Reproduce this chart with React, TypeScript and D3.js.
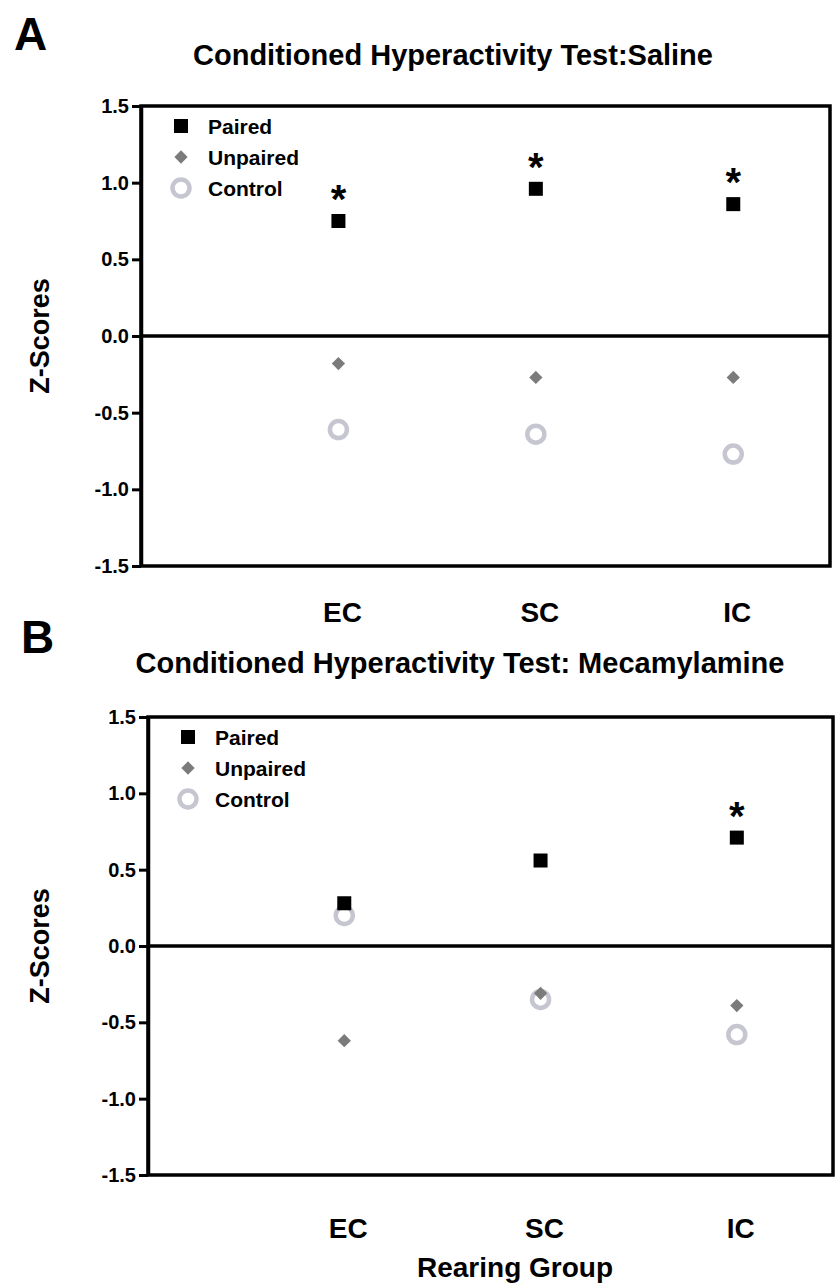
import React, { useEffect, useRef } from "react";
import * as d3 from "d3";

// rearing groups on the x axis
const groups = ["EC", "SC", "IC"];
const seriesNames = ["Paired", "Unpaired", "Control"];
const yTicks = [-1.5, -1.0, -0.5, 0.0, 0.5, 1.0, 1.5];

// panel A: saline
const salinePaired = [0.75, 0.96, 0.86];
const salineUnpaired = [-0.18, -0.27, -0.27];
const salineControl = [-0.61, -0.64, -0.77];
const salineSig = [true, true, true];

// panel B: mecamylamine
const mecaPaired = [0.28, 0.56, 0.71];
const mecaUnpaired = [-0.62, -0.31, -0.39];
const mecaControl = [0.2, -0.35, -0.58];
const mecaSig = [false, false, true];

const FONT = "'Liberation Sans', Arial, Helvetica, sans-serif";
const colors = { Paired: "#000000", Unpaired: "#7b7b7b", Control: "#c6c6d1" };

const panels = [
  {
    letter: "A", letterX: 14, letterY: 50,
    title: "Conditioned Hyperactivity Test:Saline", titleX: 453, titleY: 65,
    left: 141, right: 830, top: 106, bottom: 566, labelY: 622,
    paired: salinePaired, unpaired: salineUnpaired, control: salineControl, sig: salineSig,
  },
  {
    letter: "B", letterX: 21, letterY: 653,
    title: "Conditioned Hyperactivity Test: Mecamylamine", titleX: 460, titleY: 673,
    left: 148, right: 833, top: 717, bottom: 1175, labelY: 1238,
    paired: mecaPaired, unpaired: mecaUnpaired, control: mecaControl, sig: mecaSig,
  },
];

function drawMarker(g, name, cx, cy) {
  if (name === "Paired") {
    g.append("rect").attr("x", cx - 7).attr("y", cy - 7).attr("width", 14).attr("height", 14)
      .attr("fill", colors.Paired);
  } else if (name === "Unpaired") {
    g.append("path").attr("d", d3.symbol(d3.symbolSquare, 88)())
      .attr("transform", `translate(${cx},${cy}) rotate(45)`)
      .attr("fill", colors.Unpaired);
  } else {
    g.append("circle").attr("cx", cx).attr("cy", cy).attr("r", 8.5)
      .attr("fill", "white").attr("stroke", colors.Control).attr("stroke-width", 4.5);
  }
}

export default function App() {
  const ref = useRef(null);

  useEffect(() => {
    const svg = d3.select(ref.current);
    svg.selectAll("*").remove();
    svg.style("font-family", FONT);

    panels.forEach((p, pi) => {
      const x = d3.scaleLinear().domain([0, 3.49]).range([p.left, p.right]);
      const y = d3.scaleLinear().domain([-1.5, 1.5]).range([p.bottom, p.top]);
      const g = svg.append("g");

      g.append("text").attr("x", p.letterX).attr("y", p.letterY)
        .attr("font-size", 46).attr("font-weight", "bold").text(p.letter);
      g.append("text").attr("x", p.titleX).attr("y", p.titleY).attr("text-anchor", "middle")
        .attr("font-size", 29).attr("font-weight", "bold").text(p.title);

      // frame
      g.append("rect").attr("x", p.left).attr("y", p.top)
        .attr("width", p.right - p.left).attr("height", p.bottom - p.top)
        .attr("fill", "none").attr("stroke", "#000").attr("stroke-width", 3.5);
      g.append("line").attr("x1", p.left).attr("x2", p.right)
        .attr("y1", y(0)).attr("y2", y(0)).attr("stroke", "#000").attr("stroke-width", 3.5);

      // y axis
      const ax = g.append("g").attr("transform", `translate(${p.left},0)`)
        .call(d3.axisLeft(y).tickValues(yTicks).tickFormat(d => d.toFixed(1))
          .tickSize(9).tickSizeOuter(0).tickPadding(3));
      ax.select(".domain").attr("stroke-width", 3.5);
      ax.selectAll(".tick line").attr("stroke-width", 3);
      ax.selectAll(".tick text").attr("font-size", 20).attr("font-weight", "bold")
        .attr("font-family", FONT).attr("fill", "#000");

      g.append("text")
        .attr("transform", `translate(49,${(p.top + p.bottom) / 2}) rotate(-90)`)
        .attr("text-anchor", "middle").attr("font-size", 27).attr("font-weight", "bold")
        .text("Z-Scores");

      // x category labels
      g.selectAll(".xlab").data(groups).join("text").attr("class", "xlab")
        .attr("x", (d, i) => x(i + 1) + 4).attr("y", p.labelY)
        .attr("text-anchor", "middle").attr("font-size", 28).attr("font-weight", "bold")
        .text(d => d);

      // points: control under unpaired under paired
      const series = { Paired: p.paired, Unpaired: p.unpaired, Control: p.control };
      ["Control", "Unpaired", "Paired"].forEach(name => {
        series[name].forEach((v, i) => drawMarker(g, name, x(i + 1), y(v)));
      });

      // significance stars
      p.sig.forEach((s, i) => {
        if (!s) return;
        g.append("text").attr("x", x(i + 1)).attr("y", y(p.paired[i]) - 30 + 22)
          .attr("text-anchor", "middle").attr("font-size", 40).attr("font-weight", "bold")
          .text("*");
      });

      // legend
      seriesNames.forEach((name, i) => {
        const ly = p.top + 20 + i * 31;
        drawMarker(g, name, p.left + 40, ly);
        g.append("text").attr("x", p.left + 67).attr("y", ly + 7.5)
          .attr("font-size", 21).attr("font-weight", "bold").text(name);
      });

      if (pi === 1) {
        g.append("text").attr("x", 515).attr("y", 1277).attr("text-anchor", "middle")
          .attr("font-size", 28).attr("font-weight", "bold").text("Rearing Group");
      }
    });
  }, []);

  return (
    <svg ref={ref} width={837} height={1283}
      style={{ position: "absolute", left: 0, top: 0, background: "white" }} />
  );
}
